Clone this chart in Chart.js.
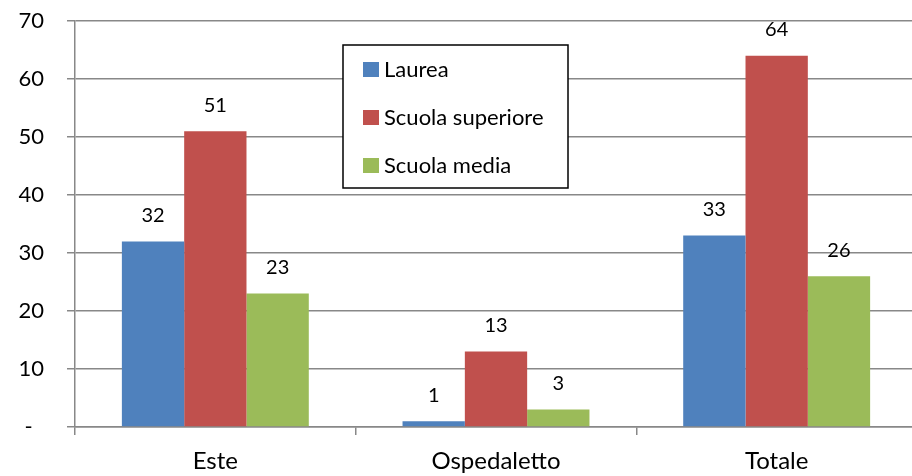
<!DOCTYPE html>
<html>
<head>
<meta charset="utf-8">
<script src="https://cdn.jsdelivr.net/npm/chart.js@4"></script>
<style>
  html, body { margin: 0; padding: 0; background: #fff; overflow: hidden; }
  #wrap { position: relative; width: 918px; height: 476px; }
</style>
</head>
<body>
<div id="wrap"><canvas id="chart"></canvas></div>
<script>
// --- Data ---
const categories = ['Este', 'Ospedaletto', 'Totale'];
const seriesNames = ['Laurea', 'Scuola superiore', 'Scuola media'];
const laurea = [32, 1, 33];
const scuolaSuperiore = [51, 13, 64];
const scuolaMedia = [23, 3, 26];
const seriesColors = ['#4F81BD', '#C0504D', '#9BBB59'];

const FONT = 'Lato, "Open Sans", sans-serif';

// value labels above each bar
const valueLabels = {
  id: 'valueLabels',
  afterDatasetsDraw(chart) {
    const ctx = chart.ctx;
    ctx.save();
    ctx.font = '20px ' + FONT;
    ctx.fillStyle = '#000';
    ctx.textAlign = 'center';
    ctx.textBaseline = 'middle';
    chart.data.datasets.forEach((ds, i) => {
      chart.getDatasetMeta(i).data.forEach((bar, j) => {
        ctx.fillText(String(ds.data[j]), bar.x, bar.y - 26);
      });
    });
    ctx.restore();
  }
};

// boxed legend inside the plot area
const boxLegend = {
  id: 'boxLegend',
  afterDraw(chart) {
    const ctx = chart.ctx;
    ctx.save();
    ctx.fillStyle = '#fff';
    ctx.fillRect(343, 45, 225, 143);
    ctx.strokeStyle = '#000';
    ctx.lineWidth = 1.5;
    ctx.strokeRect(343, 45, 225, 143);
    ctx.font = '22px ' + FONT;
    ctx.textBaseline = 'middle';
    ctx.textAlign = 'left';
    chart.data.datasets.forEach((ds, i) => {
      const y = 70 + i * 48;
      ctx.fillStyle = ds.backgroundColor;
      ctx.fillRect(363, y - 8, 16, 15);
      ctx.fillStyle = '#000';
      ctx.fillText(ds.label, 384, y);
    });
    ctx.restore();
  }
};

const seriesData = [laurea, scuolaSuperiore, scuolaMedia];

new Chart(document.getElementById('chart'), {
  type: 'bar',
  data: {
    labels: categories,
    datasets: seriesNames.map((name, i) => ({
      label: name,
      data: seriesData[i],
      backgroundColor: seriesColors[i],
      borderWidth: 0,
      barPercentage: 1,
      categoryPercentage: 0.666,
    })),
  },
  options: {
    responsive: true,
    maintainAspectRatio: false,
    animation: false,
    layout: { padding: { top: 21, left: 0, right: 1, bottom: 0 } },
    plugins: { legend: { display: false }, tooltip: { enabled: false } },
    scales: {
      x: {
        grid: { drawOnChartArea: false, drawTicks: true, tickLength: 8, color: '#888', lineWidth: 1.5, offset: true },
        border: { display: true, color: '#888', width: 1.5 },
        ticks: { font: { family: FONT, size: 24 }, color: '#000', padding: 12, maxRotation: 0 },
        afterFit(scale) { scale.height = 49; scale.paddingLeft = 0; scale.paddingRight = 0; },
      },
      y: {
        min: 0,
        max: 70,
        ticks: {
          stepSize: 10,
          font: { family: FONT, size: 22 },
          color: '#000',
          padding: 23,
          callback: v => (v === 0 ? '-\u00A0\u00A0' : v),
        },
        grid: { color: '#888', lineWidth: 1.5, tickLength: 8, drawTicks: true },
        border: { display: true, color: '#888', width: 1.5 },
        afterFit(scale) { scale.width = 75; scale.paddingTop = 0; scale.paddingBottom = 0; },
      },
    },
  },
  plugins: [valueLabels, boxLegend],
});
</script>
</body>
</html>
